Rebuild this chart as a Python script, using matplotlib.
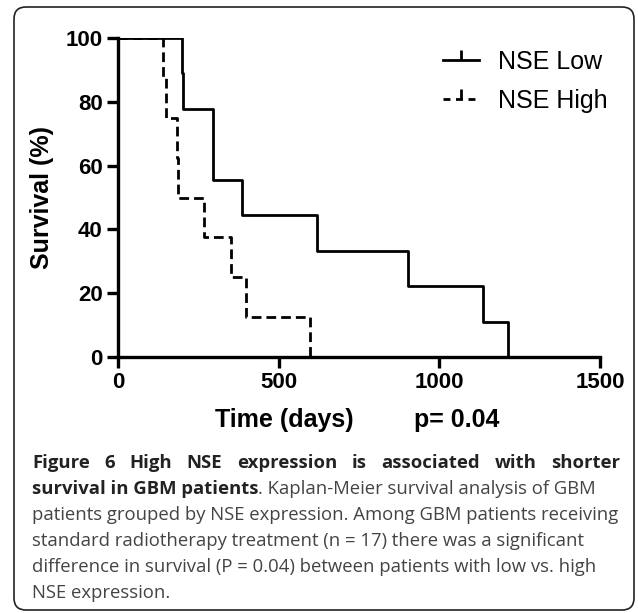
import numpy as np
import matplotlib
matplotlib.use("Agg")
import matplotlib.pyplot as plt
from matplotlib.lines import Line2D
from matplotlib.patches import FancyBboxPatch

# Kaplan-Meier steps
low_days = [0, 198, 203, 296, 386, 618, 902, 1136, 1214]
low_surv = [100, 88.9, 77.8, 55.6, 44.4, 33.3, 22.2, 11.1, 0]
high_days = [0, 140, 149, 183, 186, 268, 352, 398, 596]
high_surv = [100, 87.5, 75, 62.5, 50, 37.5, 25, 12.5, 0]

x_ticks = [0, 500, 1000, 1500]
y_ticks = [0, 20, 40, 60, 80, 100]
series_names = ["NSE Low", "NSE High"]

caption_bold1 = "Figure 6 High NSE expression is associated with shorter"
caption_bold2 = "survival in GBM patients"
caption_rest2 = ". Kaplan-Meier survival analysis of GBM"
caption_lines = ["patients grouped by NSE expression. Among GBM patients receiving",
                 "standard radiotherapy treatment (n = 17) there was a significant",
                 "difference in survival (P = 0.04) between patients with low vs. high",
                 "NSE expression."]

W, H = 638, 613
fig = plt.figure(figsize=(W/100, H/100), dpi=100)
plt.rcParams['font.family'] = ['Liberation Sans', 'DejaVu Sans']

# axes box in pixel terms
left, right, top, bottom = 118, 600, 38, 357
ax = fig.add_axes([left/W, 1-bottom/H, (right-left)/W, (bottom-top)/H])

ax.step(low_days, low_surv, where='post', color='black', lw=2.0)
ax.step(high_days, high_surv, where='post', color='black', lw=2.0,
        linestyle=(0, (3.5, 1.8)))

ax.set_xlim(0, 1500)
ax.set_ylim(0, 100)
ax.set_xticks(x_ticks)
ax.set_yticks(y_ticks)
for s in ['top', 'right']:
    ax.spines[s].set_visible(False)
for s in ['left', 'bottom']:
    ax.spines[s].set_linewidth(2.4)
ax.tick_params(direction='out', length=8, width=2.4, pad=3, labelsize=16)
for lab in ax.get_xticklabels() + ax.get_yticklabels():
    lab.set_fontweight('bold')

ax.set_ylabel("Survival (%)", fontsize=18, fontweight='bold', labelpad=8)
fig.text(284/W, 1-420/H, "Time (days)", fontsize=18, fontweight='bold',
         ha='center', va='center')
fig.text(414/W, 1-420/H, "p= 0.04", fontsize=18, fontweight='bold',
         ha='left', va='center')

handles = [Line2D([0], [0], color='black', lw=2.0, marker=2, markersize=7,
                  markeredgewidth=2.0),
           Line2D([0], [0], color='black', lw=2.0, linestyle=(0, (2.5, 2)), marker=2,
                  markersize=7, markeredgewidth=2.0)]
ax.legend(handles, series_names, loc='upper left',
          bbox_to_anchor=((443-left)/(right-left), (bottom-50)/(bottom-top)),
          frameon=False, fontsize=18, handlelength=1.45, handletextpad=0.75,
          labelspacing=0.6, borderpad=0, borderaxespad=0)

# rounded frame around panel + caption
box = FancyBboxPatch((14/100, (H-610)/100), (634-14)/100, (610-7)/100,
                     boxstyle="round,pad=0,rounding_size=0.12",
                     transform=fig.dpi_scale_trans, fill=False,
                     edgecolor='#222222', lw=1.2)
fig.patches.append(box)

# caption
cap_font = ['Open Sans', 'DejaVu Sans']
cap_size = 13.3
x0, x1 = 32, 620
base_y = [468, 494, 520, 546, 572, 598]
fig.canvas.draw()
renderer = fig.canvas.get_renderer()

# first line justified
words = caption_bold1.split()
tmp = [fig.text(0, 0, w, fontsize=cap_size, fontweight='bold', family=cap_font)
       for w in words]
widths = [t.get_window_extent(renderer).width for t in tmp]
for t in tmp:
    t.remove()
gap = (x1 - x0 - sum(widths)) / (len(words) - 1)
xp = x0
for w, wd in zip(words, widths):
    fig.text(xp/W, 1-base_y[0]/H, w, fontsize=cap_size, fontweight='bold',
             family=cap_font, color='#222222', va='baseline')
    xp += wd + gap

t = fig.text(x0/W, 1-base_y[1]/H, caption_bold2, fontsize=cap_size, fontweight='bold',
             family=cap_font, color='#222222', va='baseline')
wd = t.get_window_extent(renderer).width
fig.text((x0+wd)/W, 1-base_y[1]/H, caption_rest2, fontsize=cap_size,
         family=cap_font, color='#444444', va='baseline')
for i, line in enumerate(caption_lines):
    fig.text(x0/W, 1-base_y[i+2]/H, line, fontsize=cap_size, family=cap_font,
             color='#444444', va='baseline')

fig.savefig("out.png", dpi=100)
